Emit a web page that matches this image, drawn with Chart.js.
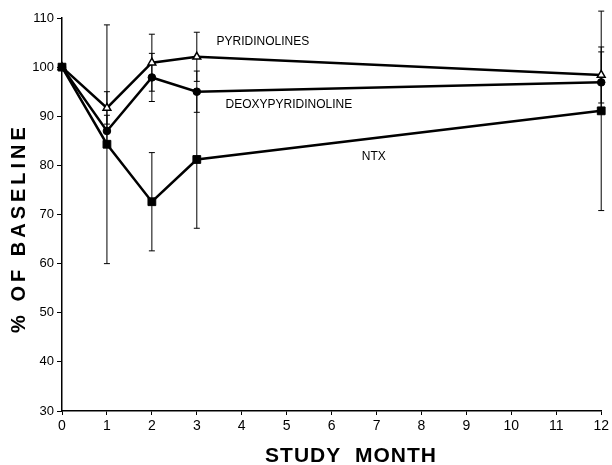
<!DOCTYPE html>
<html>
<head>
<meta charset="utf-8">
<title>% of baseline by study month</title>
<script src="https://cdn.jsdelivr.net/npm/chart.js@4/dist/chart.umd.min.js"></script>
<style>
  html, body { margin: 0; padding: 0; background: #fff; }
  canvas { display: block; }
</style>
</head>
<body>
<canvas id="canvas-1" width="612" height="465"></canvas>
<script>
// values
var months = [0, 1, 2, 3, 12];

var pyridinolines = [100, 91.7, 100.9, 102.1, 98.4];
var pyridinolinesErr = [0, 3.3, 5.8, 5.0, 5.7];

var deoxypyridinoline = [100, 87.0, 97.9, 95.0, 96.9];
var deoxypyridinolineErr = [0, 3.2, 4.9, 4.2, 6.2];

var ntx = [100, 84.3, 72.6, 81.2, 91.1];
var ntxErr = [0, 24.3, 10.0, 14.0, 20.3];

var seriesNames = ['PYRIDINOLINES', 'DEOXYPYRIDINOLINE', 'NTX'];

var FONT = "'Liberation Sans', Arial, sans-serif";

function points(ys) {
  return months.map(function (m, i) { return { x: m, y: ys[i] }; });
}

// where each series name sits, in data units
var nameAnchors = [
  { x: 3.44, y: 105.1 },
  { x: 3.64, y: 92.3 },
  { x: 6.67, y: 81.7 }
];

var errorBars = {
  id: 'errorBars',
  beforeDatasetsDraw: function (chart) {
    var ctx = chart.ctx;
    var yScale = chart.scales.y;
    ctx.save();
    ctx.strokeStyle = '#000';
    ctx.lineWidth = 1;
    chart.data.datasets.forEach(function (ds, di) {
      var meta = chart.getDatasetMeta(di);
      meta.data.forEach(function (pt, i) {
        var e = ds.err[i];
        if (!e) return;
        var v = ds.data[i].y;
        var top = yScale.getPixelForValue(v + e);
        var bot = yScale.getPixelForValue(v - e);
        ctx.beginPath();
        ctx.moveTo(pt.x, top);
        ctx.lineTo(pt.x, bot);
        ctx.moveTo(pt.x - 3, top);
        ctx.lineTo(pt.x + 3, top);
        ctx.moveTo(pt.x - 3, bot);
        ctx.lineTo(pt.x + 3, bot);
        ctx.stroke();
      });
    });
    ctx.restore();
  }
};

var labelsAndTitles = {
  id: 'labelsAndTitles',
  afterDraw: function (chart) {
    var ctx = chart.ctx;
    var xs = chart.scales.x, ys = chart.scales.y;
    ctx.save();
    ctx.fillStyle = '#000';

    ctx.font = '12px ' + FONT;
    ctx.textAlign = 'left';
    ctx.textBaseline = 'middle';
    seriesNames.forEach(function (name, i) {
      ctx.fillText(name, xs.getPixelForValue(nameAnchors[i].x), ys.getPixelForValue(nameAnchors[i].y));
    });

    // x title
    ctx.font = 'bold 21px ' + FONT;
    ctx.letterSpacing = '1px';
    ctx.textAlign = 'center';
    ctx.fillText('STUDY  MONTH', 351, 456);

    // y title
    ctx.font = 'bold 20px ' + FONT;
    ctx.letterSpacing = '4px';
    ctx.translate(19, 228);
    ctx.rotate(-Math.PI / 2);
    ctx.fillText('% OF BASELINE', 0, 0);
    ctx.restore();
  }
};

var chart = new Chart(document.getElementById('canvas-1'), {
  type: 'line',
  data: {
    datasets: [{
      label: seriesNames[0],
      data: points(pyridinolines),
      err: pyridinolinesErr,
      order: 2,
      clip: false,
      borderColor: '#000',
      borderWidth: 2.5,
      pointStyle: 'triangle',
      pointRadius: 4.5,
      pointBackgroundColor: '#fff',
      pointBorderColor: '#000',
      pointBorderWidth: 1.5
    }, {
      label: seriesNames[1],
      data: points(deoxypyridinoline),
      err: deoxypyridinolineErr,
      order: 1,
      clip: false,
      borderColor: '#000',
      borderWidth: 2.5,
      pointStyle: 'circle',
      pointRadius: 3.8,
      pointBackgroundColor: '#000',
      pointBorderColor: '#000',
      pointBorderWidth: 1
    }, {
      label: seriesNames[2],
      data: points(ntx),
      err: ntxErr,
      order: 0,
      clip: false,
      borderColor: '#000',
      borderWidth: 2.5,
      pointStyle: 'rect',
      pointRadius: 5.5,
      pointBackgroundColor: '#000',
      pointBorderColor: '#000',
      pointBorderWidth: 1
    }]
  },
  options: {
    responsive: false,
    animation: false,
    layout: { padding: { top: 18, right: 8, left: 0, bottom: 0 } },
    plugins: {
      legend: { display: false },
      tooltip: { enabled: false }
    },
    scales: {
      x: {
        type: 'linear',
        min: 0,
        max: 12,
        afterFit: function (s) { s.height = 54; },
        ticks: { stepSize: 1, color: '#000', padding: 3, font: { family: FONT, size: 14 } },
        grid: { drawOnChartArea: false, drawTicks: true, tickLength: 4, color: '#000' },
        border: { color: '#000', width: 1.5 }
      },
      y: {
        min: 30,
        max: 110,
        afterFit: function (s) { s.width = 62; },
        ticks: { stepSize: 10, color: '#000', padding: 3, font: { family: FONT, size: 13 } },
        grid: { drawOnChartArea: false, drawTicks: true, tickLength: 5, color: '#000' },
        border: { color: '#000', width: 1.5 }
      }
    }
  },
  plugins: [errorBars, labelsAndTitles]
});
</script>
</body>
</html>
